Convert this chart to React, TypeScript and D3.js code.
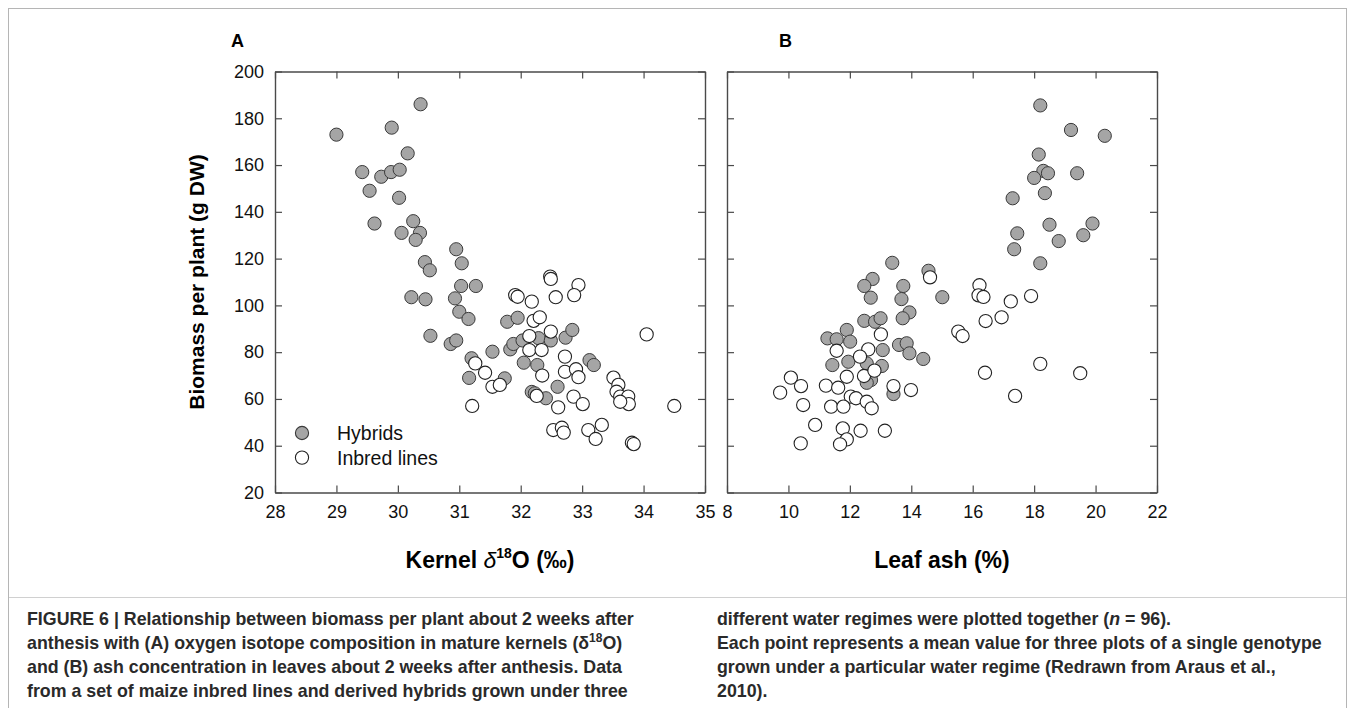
import { useEffect, useRef } from "react";
import * as d3 from "d3";

// ---- data: [x, biomass] ----
const hybridsA = [
  [29.0, 173], [30.37, 186], [29.9, 176], [30.16, 165], [29.42, 157], [29.73, 155],
  [29.89, 157], [30.03, 158], [29.54, 149], [30.02, 146], [29.62, 135], [30.06, 131],
  [30.25, 136], [30.36, 131], [30.29, 128], [30.95, 124], [31.04, 118], [30.44, 118.5],
  [30.52, 115], [30.22, 103.5], [30.45, 102.6], [30.93, 103], [31.03, 108.3], [31.27, 108.3],
  [31.0, 97.3], [31.15, 94.2], [30.53, 87], [30.86, 83.5], [30.95, 85], [31.2, 77.4],
  [31.16, 69], [31.54, 80.2], [31.78, 93], [31.95, 94.7], [31.83, 81.2], [31.88, 83.5],
  [32.03, 85], [32.05, 75.5], [32.27, 74.5], [32.29, 86], [32.49, 85], [32.73, 86.2],
  [32.84, 89.5], [33.12, 76.6], [33.19, 74.5], [31.74, 68.8], [32.18, 63], [32.41, 60.3],
  [32.6, 65.2], [32.23, 62.4],
];
const inbredsA = [
  [32.48, 112.3], [32.49, 111.3], [32.94, 108.7], [32.87, 104.4], [32.57, 103.5], [31.91, 104.4],
  [31.95, 103.7], [32.18, 101.6], [32.21, 93.4], [32.31, 94.9], [32.49, 88.8], [32.14, 86.9],
  [32.14, 80.9], [32.34, 80.9], [32.72, 78.1], [32.72, 71.6], [32.9, 72.7], [32.94, 69.3],
  [32.35, 70], [31.26, 75.2], [31.42, 71.2], [31.54, 65.2], [31.66, 66], [31.21, 57],
  [32.26, 61.3], [32.86, 61], [33.01, 57.8], [32.61, 56.4], [32.53, 46.7], [32.67, 47.7],
  [32.7, 45.6], [33.1, 46.7], [33.32, 48.9], [33.22, 42.9], [33.51, 69.1], [33.59, 66],
  [33.56, 63.1], [33.62, 61], [33.75, 61], [33.76, 57.8], [33.62, 58.8], [33.81, 41.3],
  [33.84, 40.7], [34.05, 87.6], [34.5, 57],
];
const hybridsB = [
  [17.3, 145.8], [17.45, 130.8], [17.35, 124], [13.38, 118.2], [14.56, 114.8], [12.74, 111.3],
  [12.47, 108.3], [12.68, 103.3], [13.74, 108.3], [13.68, 102.7], [15.01, 103.5], [13.94, 97],
  [13.72, 94.5], [12.47, 93.4], [12.82, 93], [13.0, 94.5], [11.9, 89.5], [11.27, 85.9],
  [11.57, 85.5], [12.01, 84.5], [13.07, 80.9], [13.04, 74.1], [13.6, 83.1], [13.85, 83.8],
  [13.94, 79.5], [14.39, 77.1], [11.43, 74.5], [11.95, 75.9], [12.55, 75.2], [12.69, 68.1],
  [12.55, 66.9], [13.42, 62.1], [18.2, 185.5], [19.2, 175], [20.3, 172.5], [18.15, 164.5],
  [18.3, 157.5], [18.45, 156.5], [18.0, 154.5], [19.4, 156.5], [18.35, 148], [18.5, 134.5],
  [19.9, 135], [18.8, 127.5], [19.6, 130], [18.2, 118],
];
const inbredsB = [
  [14.61, 112], [16.22, 108.6], [16.19, 104.3], [16.35, 103.6], [17.24, 101.7], [16.42, 93.3],
  [16.94, 94.9], [15.53, 88.8], [15.67, 86.9], [16.4, 71.2], [17.38, 61.3], [13.01, 87.6],
  [12.6, 81.2], [12.33, 78.1], [11.57, 80.6], [11.9, 69.5], [12.46, 69.8], [12.8, 72.1],
  [10.08, 69.1], [10.41, 65.5], [9.73, 62.7], [11.22, 65.7], [11.62, 64.8], [13.42, 65.5],
  [13.99, 63.8], [12.03, 61], [12.2, 60.3], [12.55, 58.8], [12.71, 56], [10.48, 57.4],
  [11.39, 56.7], [11.79, 56.7], [10.87, 48.9], [11.77, 47.4], [12.35, 46.4], [13.14, 46.4],
  [11.9, 42.7], [11.68, 40.6], [10.4, 41], [17.9, 104], [18.2, 75], [19.5, 71],
];

const xTicksA = [28, 29, 30, 31, 32, 33, 34, 35];
const xTicksB = [8, 10, 12, 14, 16, 18, 20, 22];
const yTicks = [20, 40, 60, 80, 100, 120, 140, 160, 180, 200];
const legendLabels = ["Hybrids", "Inbred lines"];

const captionLeft = [
  "FIGURE 6 | Relationship between biomass per plant about 2 weeks after",
  "anthesis with (A) oxygen isotope composition in mature kernels (δ|18|O)",
  "and (B) ash concentration in leaves about 2 weeks after anthesis. Data",
  "from a set of maize inbred lines and derived hybrids grown under three",
];
const captionRight = [
  "different water regimes were plotted together (~n~ = 96).",
  "Each point represents a mean value for three plots of a single genotype",
  "grown under a particular water regime (Redrawn from Araus et al.,",
  "2010).",
];

const FONT = "'Liberation Sans', Arial, sans-serif";
const W = 1355;
const H = 708;
const plotTop = 71.5;
const plotBottom = 492.5;
const R = 6.6;

export default function App() {
  const svgRef = useRef<SVGSVGElement>(null);

  useEffect(() => {
    const svg = d3.select(svgRef.current);
    svg.selectAll("*").remove();

    // outer figure frame + caption separator
    svg.append("rect")
      .attr("x", 8.5).attr("y", 8.5).attr("width", 1338).attr("height", 720)
      .attr("fill", "none").attr("stroke", "#b5b5b5").attr("stroke-width", 1);
    svg.append("line")
      .attr("x1", 9).attr("x2", 1346).attr("y1", 597.5).attr("y2", 597.5)
      .attr("stroke", "#d0d0d0").attr("stroke-width", 1);

    const y = d3.scaleLinear().domain([20, 200]).range([plotBottom, plotTop]);

    const drawPanel = (
      x: d3.ScaleLinear<number, number>,
      ticks: number[],
      hyb: number[][],
      inb: number[][],
      yLabels: boolean
    ) => {
      const g = svg.append("g");
      const [x0, x1] = x.range();

      const styleAxis = (sel: any) => {
        sel.selectAll("path.domain").attr("stroke", "#4a4a4a").attr("stroke-width", 1.4);
        sel.selectAll(".tick line").attr("stroke", "#4a4a4a").attr("stroke-width", 1.2);
        sel.selectAll(".tick text")
          .attr("font-family", FONT).attr("font-size", 18).attr("fill", "#111");
      };

      g.append("g").attr("transform", `translate(0,${plotBottom})`)
        .call(d3.axisBottom(x).tickValues(ticks).tickSizeInner(-7).tickSizeOuter(0).tickPadding(13).tickFormat(d3.format("d")))
        .call(styleAxis);
      g.append("g").attr("transform", `translate(0,${plotTop})`)
        .call(d3.axisTop(x).tickValues(ticks).tickSizeInner(-7).tickSizeOuter(0).tickFormat(() => ""))
        .call(styleAxis);
      g.append("g").attr("transform", `translate(${x0},0)`)
        .call(d3.axisLeft(y).tickValues(yTicks).tickSizeInner(-7).tickSizeOuter(0).tickPadding(11)
          .tickFormat(yLabels ? d3.format("d") : () => ""))
        .call(styleAxis);
      g.append("g").attr("transform", `translate(${x1},0)`)
        .call(d3.axisRight(y).tickValues(yTicks).tickSizeInner(-7).tickSizeOuter(0).tickFormat(() => ""))
        .call(styleAxis);
      g.selectAll(".domain").attr("fill", "none");

      g.append("g").selectAll("circle").data(hyb).join("circle")
        .attr("cx", (d) => x(d[0])).attr("cy", (d) => y(d[1])).attr("r", R)
        .attr("fill", "#a5a5a5").attr("stroke", "#3a3a3a").attr("stroke-width", 1);
      g.append("g").selectAll("circle").data(inb).join("circle")
        .attr("cx", (d) => x(d[0])).attr("cy", (d) => y(d[1])).attr("r", R)
        .attr("fill", "#fff").attr("stroke", "#222").attr("stroke-width", 1.1);
      return g;
    };

    const xA = d3.scaleLinear().domain([28, 35]).range([275, 705]);
    const xB = d3.scaleLinear().domain([8, 22]).range([727, 1157]);
    drawPanel(xA, xTicksA, hybridsA, inbredsA, true);
    drawPanel(xB, xTicksB, hybridsB, inbredsB, false);

    // panel letters
    svg.append("text").attr("x", 231).attr("y", 47).text("A")
      .attr("font-family", FONT).attr("font-weight", "bold").attr("font-size", 18);
    svg.append("text").attr("x", 779).attr("y", 47).text("B")
      .attr("font-family", FONT).attr("font-weight", "bold").attr("font-size", 18);

    // y title
    svg.append("text")
      .attr("transform", `translate(204,${(plotTop + plotBottom) / 2}) rotate(-90)`)
      .attr("text-anchor", "middle").attr("font-family", FONT).attr("font-weight", "bold")
      .attr("font-size", 21).text("Biomass per plant (g DW)");

    // x titles
    const tA = svg.append("text").attr("x", 490).attr("y", 568).attr("text-anchor", "middle")
      .attr("font-family", FONT).attr("font-weight", "bold").attr("font-size", 23);
    tA.append("tspan").text("Kernel ");
    tA.append("tspan").attr("font-style", "italic").attr("font-weight", "normal").text("δ");
    tA.append("tspan").attr("dy", -10).attr("font-size", 14).text("18");
    tA.append("tspan").attr("dy", 10).text("O (‰)");
    svg.append("text").attr("x", 942).attr("y", 568).attr("text-anchor", "middle")
      .attr("font-family", FONT).attr("font-weight", "bold").attr("font-size", 23)
      .text("Leaf ash (%)");

    // legend
    const leg = svg.append("g").attr("transform", "translate(302,433)");
    legendLabels.forEach((lab, i) => {
      leg.append("circle").attr("cx", 0).attr("cy", i * 24.6).attr("r", R)
        .attr("fill", i === 0 ? "#a5a5a5" : "#fff")
        .attr("stroke", i === 0 ? "#3a3a3a" : "#222").attr("stroke-width", 1.1);
      leg.append("text").attr("x", 35).attr("y", i * 24.6 + 7).text(lab)
        .attr("font-family", FONT).attr("font-size", 19.5).attr("fill", "#111");
    });

    // caption
    const writeLine = (line: string, xPos: number, yPos: number) => {
      const t = svg.append("text").attr("x", xPos).attr("y", yPos)
        .attr("font-family", FONT).attr("font-weight", "bold").attr("font-size", 17.8)
        .attr("fill", "#2a2a2a");
      const supParts = line.split("|");
      if (line.includes("(δ|")) {
        t.append("tspan").text(supParts[0]);
        t.append("tspan").attr("dy", -7).attr("font-size", 12).text(supParts[1]);
        t.append("tspan").attr("dy", 7).text(supParts[2]);
        return;
      }
      const it = line.split("~");
      it.forEach((part, i) => {
        const s = t.append("tspan").text(part);
        if (i % 2 === 1) s.attr("font-style", "italic");
      });
    };
    captionLeft.forEach((l, i) => writeLine(l, 27, 625 + i * 24));
    captionRight.forEach((l, i) => writeLine(l, 717, 625 + i * 24));
  }, []);

  return (
    <svg
      ref={svgRef}
      width={W}
      height={H}
      style={{ position: "absolute", left: 0, top: 0, background: "#fff" }}
    />
  );
}
